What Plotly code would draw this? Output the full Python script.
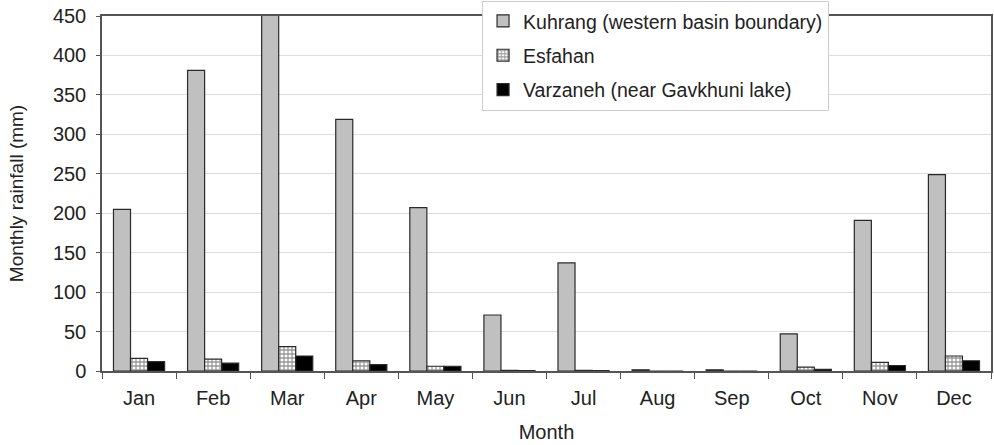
import plotly.graph_objects as go

months = ["Jan", "Feb", "Mar", "Apr", "May", "Jun", "Jul", "Aug", "Sep", "Oct", "Nov", "Dec"]
kuhrang = [205, 381, 460, 319, 207, 71, 137, 1.5, 1.5, 47, 191, 249]
esfahan = [16, 15, 31, 13, 6, 0.8, 0.8, 0, 0, 5, 11, 19]
varzaneh = [12, 10, 19, 8, 6, 0.5, 0.5, 0, 0, 2, 7, 13]

font = "Liberation Sans, Arial, sans-serif"
edge = dict(color="#2a2a2a", width=1.2)

fig = go.Figure()
fig.add_trace(go.Bar(x=months, y=kuhrang, name="Kuhrang (western basin boundary)",
                     marker=dict(color="#c0c0c0", line=edge), legendgroup="a"))
fig.add_trace(go.Bar(x=months, y=esfahan, name="Esfahan",
                     marker=dict(color="#ffffff", line=edge,
                                 pattern=dict(shape="+", fgcolor="#333333", bgcolor="#ffffff",
                                              size=4, solidity=0.55)),
                     legendgroup="b"))
fig.add_trace(go.Bar(x=months, y=varzaneh, name="Varzaneh (near Gavkhuni lake)",
                     marker=dict(color="#000000", line=edge), legendgroup="c"))

fig.update_layout(
    width=994, height=445,
    margin=dict(l=102, r=3, t=16, b=74, autoexpand=False),
    paper_bgcolor="white", plot_bgcolor="white",
    barmode="group", bargap=0.31, bargroupgap=0,
    font=dict(family=font, size=20, color="#222222"),
    showlegend=True,
    legend=dict(x=0.4275, y=1.043, xanchor="left", yanchor="top",
                bgcolor="white", bordercolor="#cccccc", borderwidth=1,
                font=dict(size=19.5), tracegroupgap=6, traceorder="grouped"),
    xaxis=dict(title=dict(text="Month", standoff=17, font=dict(size=20)),
               automargin=False, ticklabelstandoff=8,
               showline=True, linecolor="#555555", linewidth=1.5, mirror=True,
               ticks="outside", tickson="boundaries", ticklen=6, tickcolor="#555555",
               showgrid=False),
    yaxis=dict(title=dict(text="Monthly rainfall (mm)", standoff=24, font=dict(size=19)),
               automargin=False, ticklabelstandoff=6,
               range=[0, 450], dtick=50, showline=True, linecolor="#555555", linewidth=1.5,
               mirror=True, ticks="outside", ticklen=4, tickcolor="#555555",
               gridcolor="#dddddd", gridwidth=1, zeroline=False),
)

fig.write_html("out.html", config={"displayModeBar": False},
               post_script="document.body.style.margin='0';")
